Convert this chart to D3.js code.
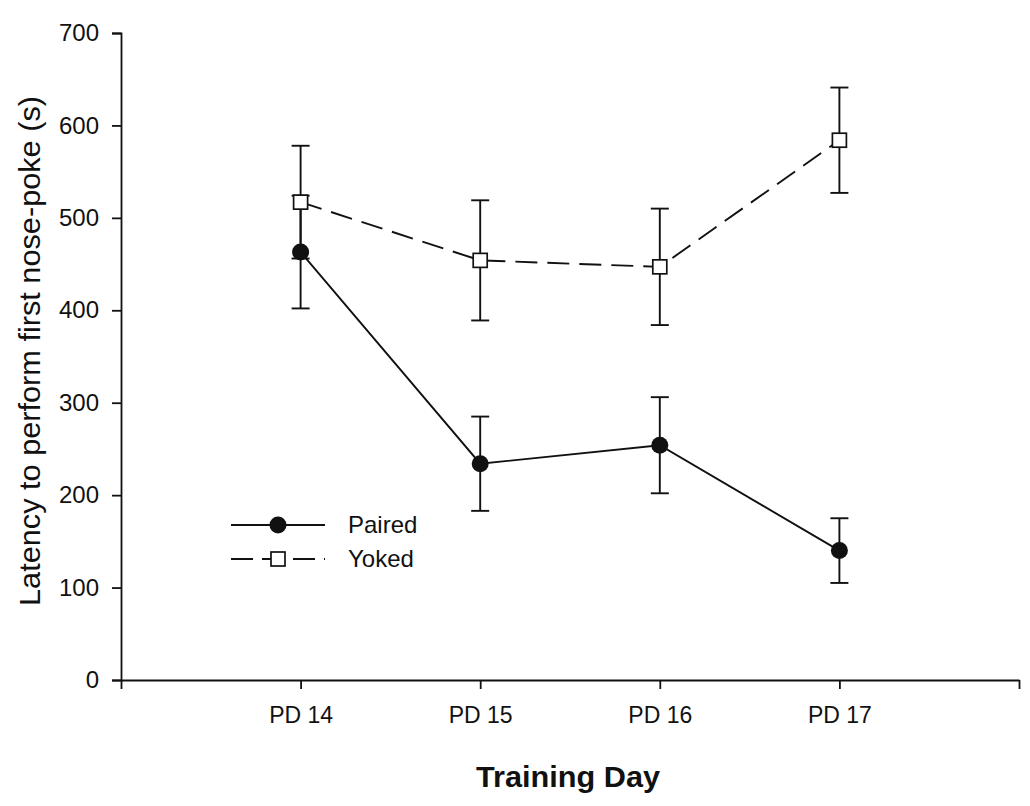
<!DOCTYPE html>
<html><head><meta charset="utf-8">
<script src="https://cdn.jsdelivr.net/npm/d3@7"></script>
<style>
body{margin:0;background:#fff;}
svg{display:block;font-family:Arial,"Liberation Sans",sans-serif;}
</style></head>
<body><svg id="c" width="1030" height="806"></svg>
<script>
const days = ["PD 14","PD 15","PD 16","PD 17"];
const pairedMean = [463, 234, 254, 140];
const pairedErr  = [61, 51, 52, 35];
const yokedMean  = [517, 454, 447, 584];
const yokedErr   = [61, 65, 63, 57];
const yTicks = [0,100,200,300,400,500,600,700];
const seriesNames = ["Paired","Yoked"];

const svg = d3.select("#c");
const x = d3.scaleLinear().domain([0,5]).range([121,1019]);
const y = d3.scaleLinear().domain([0,700]).range([680,33]);

// axes
const yAxis = d3.axisLeft(y).tickValues(yTicks).tickSize(9).tickPadding(13).tickFormat(d3.format("d"));
const gy = svg.append("g").attr("transform","translate(121,0)").call(yAxis);
gy.select(".domain").attr("stroke","#111").attr("stroke-width",1.8);
gy.selectAll(".tick line").attr("stroke","#111").attr("stroke-width",1.8);
gy.selectAll(".tick text").attr("font-size",24).attr("fill","#111").attr("font-family","Arial,'Liberation Sans',sans-serif");

const xAxis = d3.axisBottom(x).tickValues([0,1,2,3,4,5]).tickSize(9).tickPadding(18)
  .tickFormat(d => (d>=1 && d<=4) ? days[d-1] : "").tickSizeOuter(0);
const gx = svg.append("g").attr("transform","translate(0,680)").call(xAxis);
gx.select(".domain").attr("stroke","#111").attr("stroke-width",1.8);
gx.selectAll(".tick line").attr("stroke","#111").attr("stroke-width",1.8);
gx.selectAll(".tick text").attr("font-size",23).attr("fill","#111").attr("font-family","Arial,'Liberation Sans',sans-serif");

// axis titles
svg.append("text").attr("x",568).attr("y",787).attr("text-anchor","middle")
  .attr("font-size",29).attr("font-weight","bold").attr("fill","#111")
  .attr("textLength",184).attr("lengthAdjust","spacingAndGlyphs").text("Training Day");
svg.append("text").attr("transform","translate(40,351) rotate(-90)").attr("text-anchor","middle")
  .attr("font-size",30).attr("fill","#111")
  .attr("textLength",510).attr("lengthAdjust","spacingAndGlyphs")
  .text("Latency to perform first nose-poke (s)");

const idx = d3.range(days.length);
const line = (m) => d3.line().x(i => x(i+1)).y(i => y(m[i]));

function errBars(mean, err){
  const g = svg.append("g").attr("stroke","#111").attr("stroke-width",1.9).attr("fill","none");
  idx.forEach(i=>{
    const cx = x(i+1), hi = y(mean[i]+err[i]), lo = y(mean[i]-err[i]);
    g.append("line").attr("x1",cx).attr("x2",cx).attr("y1",hi).attr("y2",lo);
    g.append("line").attr("x1",cx-9).attr("x2",cx+9).attr("y1",hi).attr("y2",hi);
    g.append("line").attr("x1",cx-9).attr("x2",cx+9).attr("y1",lo).attr("y2",lo);
  });
}
errBars(pairedMean, pairedErr);
errBars(yokedMean, yokedErr);

svg.append("path").attr("d",line(yokedMean)(idx)).attr("fill","none").attr("stroke","#111")
  .attr("stroke-width",1.9).attr("stroke-dasharray","22,10");
svg.append("path").attr("d",line(pairedMean)(idx)).attr("fill","none").attr("stroke","#111")
  .attr("stroke-width",1.9);

svg.selectAll("rect.yk").data(idx).enter().append("rect").attr("class","yk")
  .attr("x",i=>x(i+1)-7).attr("y",i=>y(yokedMean[i])-7).attr("width",14).attr("height",14)
  .attr("fill","#fff").attr("stroke","#111").attr("stroke-width",1.7);
svg.selectAll("circle.pd").data(idx).enter().append("circle").attr("class","pd")
  .attr("cx",i=>x(i+1)).attr("cy",i=>y(pairedMean[i])).attr("r",8.5).attr("fill","#111");

// legend
const lg = svg.append("g");
lg.append("line").attr("x1",231).attr("x2",325).attr("y1",525).attr("y2",525).attr("stroke","#111").attr("stroke-width",1.9);
lg.append("circle").attr("cx",278).attr("cy",525).attr("r",8.5).attr("fill","#111");
lg.append("line").attr("x1",231).attr("x2",325).attr("y1",559).attr("y2",559).attr("stroke","#111").attr("stroke-width",1.9).attr("stroke-dasharray","22,9");
lg.append("rect").attr("x",271).attr("y",552).attr("width",14).attr("height",14).attr("fill","#fff").attr("stroke","#111").attr("stroke-width",1.7);
lg.selectAll("text").data(seriesNames).enter().append("text")
  .attr("x",348).attr("y",(d,i)=>533+i*34).attr("font-size",24).attr("fill","#111").text(d=>d);
</script></body></html>
